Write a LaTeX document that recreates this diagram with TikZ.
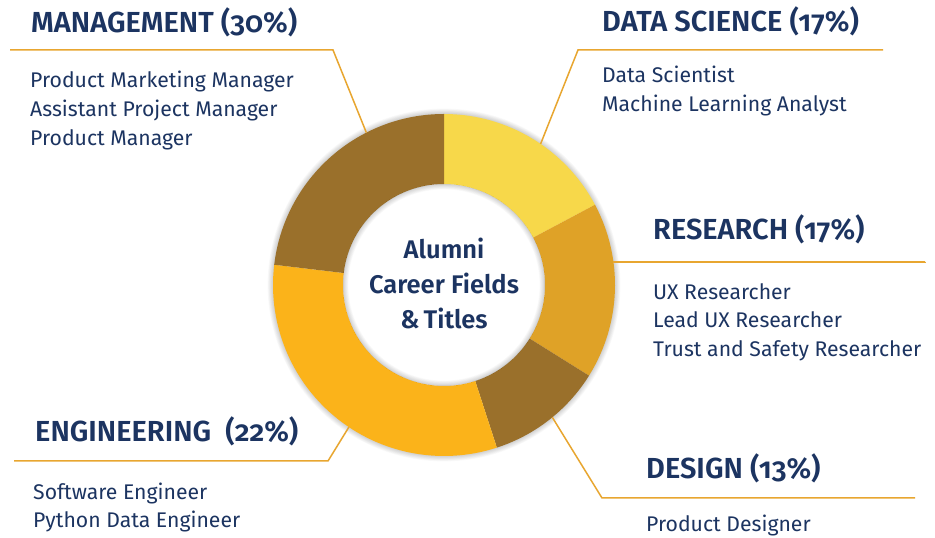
\documentclass[tikz,border=0pt]{standalone}
\usepackage{fontspec}
\setmainfont{Fira Sans}[Numbers=OldStyle]
\newfontfamily\headfont{Fira Sans SemiBold}[Numbers=OldStyle]
\usetikzlibrary{calc}
\definecolor{navy}{HTML}{1C3461}
\definecolor{lead}{HTML}{E8A630}
\definecolor{cDS}{HTML}{F7D84A}
\definecolor{cRS}{HTML}{DFA227}
\definecolor{cDG}{HTML}{9A702B}
\definecolor{cEN}{HTML}{FBB31A}
\definecolor{cMG}{HTML}{9A702B}
\begin{document}
\begin{tikzpicture}[x=1pt,y=1pt,
  head/.style={anchor=base west, inner sep=0pt, text=navy, font=\fontsize{29}{30}\headfont},
  item/.style={anchor=base west, inner sep=0pt, text=navy, font=\fontsize{21.2}{24}\selectfont},
  leader/.style={draw=lead, line width=1.5pt}]
\useasboundingbox (0,0) rectangle (935,538);
\fill[white] (0,0) rectangle (935,538);
\coordinate (C) at (444,253);
\def\Ro{171}
\def\Ri{101}
% soft outer shadow
\foreach \i in {1,...,9}
  \draw[black, opacity=0.018, line width=\i*1.2pt] (C) circle[radius=\Ro];
% segments
\newcommand{\ringseg}[3]{%
  \fill[#3] ($(C)+(#1:\Ro)$) arc[start angle=#1, end angle=#2, radius=\Ro]
    -- ($(C)+(#2:\Ri)$) arc[start angle=#2, end angle=#1, radius=\Ri] -- cycle;}
\ringseg{90}{28}{cDS}
\ringseg{28}{-32}{cRS}
\ringseg{-32}{-72}{cDG}
\ringseg{-72}{-186.8}{cEN}
\ringseg{173.2}{90}{cMG}
% inner shadow
\begin{scope}
  \clip (C) circle[radius=\Ri];
  \foreach \i in {1,...,9}
    \draw[black, opacity=0.018, line width=\i*1.2pt] (C) circle[radius=\Ri];
\end{scope}
\node[align=center, text=navy, font=\fontsize{25.5}{35}\headfont] (ctr) at ($(C)+(0,2)$)
  {Alumni\\Career Fields\\\&\,Titles};
% leader coordinates
\coordinate (mgA) at ($(C)+(117:\Ro)$);
\coordinate (mgB) at (333,488);
\coordinate (mgC) at (10,488);
\coordinate (dsA) at ($(C)+(55.6:\Ro)$);
\coordinate (dsB) at (578,488);
\coordinate (dsC) at (883,488);
\coordinate (rsA) at ($(C)+(7.7:\Ro)$);
\coordinate (rsC) at (925,276);
\coordinate (enA) at ($(C)+(236.2:\Ro)$);
\coordinate (enB) at (328,77);
\coordinate (enC) at (14,77);
\coordinate (dgA) at ($(C)+(-50.7:\Ro)$);
\coordinate (dgB) at (602,40);
\coordinate (dgC) at (915,40);
\draw[leader] (mgA) -- (mgB) -- (mgC);
\draw[leader] (dsA) -- (dsB) -- (dsC);
\draw[leader] (rsA) -- (rsA -| rsC) -- (rsC);
\draw[leader] (enA) -- (enB) -- (enC);
\draw[leader] (dgA) -- (dgB) -- (dgC);
% texts
\node[head] (mgH) at (31,505) {MANAGEMENT (30\%)};
\node[item] (mg1) at (30,450) {Product Marketing Manager};
\node[item] (mg2) at (30,421) {Assistant Project Manager};
\node[item] (mg3) at (30,392) {Product Manager};
\node[head] (dsH) at (602,506) {DATA SCIENCE (17\%)};
\node[item] (ds1) at (602,455) {Data Scientist};
\node[item] (ds2) at (602,426) {Machine Learning Analyst};
\node[head] (rsH) at (653,298) {RESEARCH (17\%)};
\node[item] (rs1) at (653,238) {UX Researcher};
\node[item] (rs2) at (653,210) {Lead UX Researcher};
\node[item] (rs3) at (653,181) {Trust and Safety Researcher};
\node[head] (enH) at (35,96) {ENGINEERING\ \ (22\%)};
\node[item] (en1) at (33,38) {Software Engineer};
\node[item] (en2) at (33,10) {Python Data Engineer};
\node[head] (dgH) at (646,59) {DESIGN (13\%)};
\node[item] (dg1) at (646,6) {Product Designer};
\end{tikzpicture}
\end{document}
